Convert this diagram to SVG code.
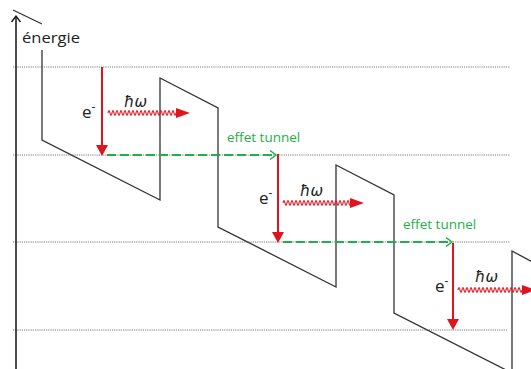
<svg xmlns="http://www.w3.org/2000/svg" width="531" height="369" viewBox="0 0 531 369">
<style>
.dot{stroke:#7a7a7a;stroke-width:1;stroke-dasharray:1.2,1;fill:none}
.prof{stroke:#333;stroke-width:1.3;fill:none}
.red{stroke:#e0141e;stroke-width:2;fill:none}
.redf{fill:#e0141e}
.wave{stroke:#e0141e;stroke-width:1.2;fill:none}
.tun{stroke:#1fb04b;stroke-width:2.2;stroke-dasharray:9,4;fill:none}
.tunh{stroke:#1fb04b;stroke-width:1.5;fill:none}
.lbl{font-family:"Open Sans","Liberation Sans",sans-serif;font-size:15px;fill:#222}
.el{font-family:"Open Sans","Liberation Sans",sans-serif;font-size:17px;fill:#222}
.glbl{font-family:"Open Sans","Liberation Sans",sans-serif;font-size:13.5px;fill:#1fb04b}
.hw{font-family:"DejaVu Sans","Liberation Sans",sans-serif;font-style:italic;font-size:15px;fill:#222}
</style>
<g id="levels">
<line class="dot" x1="13" y1="67" x2="510" y2="67"/>
<line class="dot" x1="13" y1="155" x2="510" y2="155"/>
<line class="dot" x1="13" y1="242" x2="510" y2="242"/>
<line class="dot" x1="13" y1="330" x2="508" y2="330"/>
</g>
<g id="axis">
<line x1="16" y1="369" x2="16" y2="17" stroke="#111" stroke-width="1.5"/>
<polyline points="11.5,22 16,16 20.5,22" stroke="#111" stroke-width="1.3" fill="none"/>
<text class="lbl" x="22" y="43" textLength="58" lengthAdjust="spacingAndGlyphs">énergie</text>
</g>
<g id="profile">
<line class="prof" x1="13" y1="10" x2="42" y2="24"/>
<polyline class="prof" points="42,50 42,140 160,200 160,78 218,108 218,227 336,287 336,165 394,195 394,313 512,373 512,251 540,266"/>
</g>
<g id="connectors">
<line class="tun" x1="107" y1="155" x2="275" y2="155"/>
<polyline class="tunh" points="270,150.5 276,155 270,159.5"/>
<line class="tun" x1="283" y1="242" x2="451" y2="242"/>
<polyline class="tunh" points="446,237.5 452,242 446,246.5"/>
</g>
<g id="transition1">
<line class="red" x1="102" y1="67" x2="102" y2="146"/>
<polygon class="redf" points="96,145 108,145 102,156"/>
<text class="el" x="82" y="118">e<tspan dy="-7" font-size="12">-</tspan></text>
<path class="wave" d="M108,113 q1,-5 2,0 t2,0 t2,0 t2,0 t2,0 t2,0 t2,0 t2,0 t2,0 t2,0 t2,0 t2,0 t2,0 t2,0 t2,0 t2,0 t2,0 t2,0 t2,0 t2,0 t2,0 t2,0 t2,0 t2,0 t2,0 t2,0 t2,0 t2,0 t2,0 t2,0 t2,0 t2,0 t2,0 t2,0"/>
<polygon class="redf" points="176,108 190,113 176,118"/>
<text class="hw" x="124" y="107">ħω</text>
</g>
<g id="transition2">
<line class="red" x1="278" y1="154" x2="278" y2="233"/>
<polygon class="redf" points="272,232 284,232 278,243"/>
<text class="el" x="259" y="204">e<tspan dy="-7" font-size="12">-</tspan></text>
<path class="wave" d="M283,203 q1,-5 2,0 t2,0 t2,0 t2,0 t2,0 t2,0 t2,0 t2,0 t2,0 t2,0 t2,0 t2,0 t2,0 t2,0 t2,0 t2,0 t2,0 t2,0 t2,0 t2,0 t2,0 t2,0 t2,0 t2,0 t2,0 t2,0 t2,0 t2,0 t2,0 t2,0 t2,0 t2,0 t2,0 t2,0"/>
<polygon class="redf" points="350,198 364,203 350,208"/>
<text class="hw" x="300" y="196">ħω</text>
<text class="glbl" x="227" y="142">effet tunnel</text>
</g>
<g id="transition3">
<line class="red" x1="453" y1="243" x2="453" y2="320"/>
<polygon class="redf" points="447,319 459,319 453,330"/>
<text class="el" x="435" y="292">e<tspan dy="-7" font-size="12">-</tspan></text>
<path class="wave" d="M458,290 q1,-5 2,0 t2,0 t2,0 t2,0 t2,0 t2,0 t2,0 t2,0 t2,0 t2,0 t2,0 t2,0 t2,0 t2,0 t2,0 t2,0 t2,0 t2,0 t2,0 t2,0 t2,0 t2,0 t2,0 t2,0 t2,0 t2,0 t2,0 t2,0 t2,0 t2,0 t2,0 t2,0"/>
<polygon class="redf" points="522,285 536,290 522,295"/>
<text class="hw" x="475" y="282">ħω</text>
<text class="glbl" x="403" y="229">effet tunnel</text>
</g>
</svg>
